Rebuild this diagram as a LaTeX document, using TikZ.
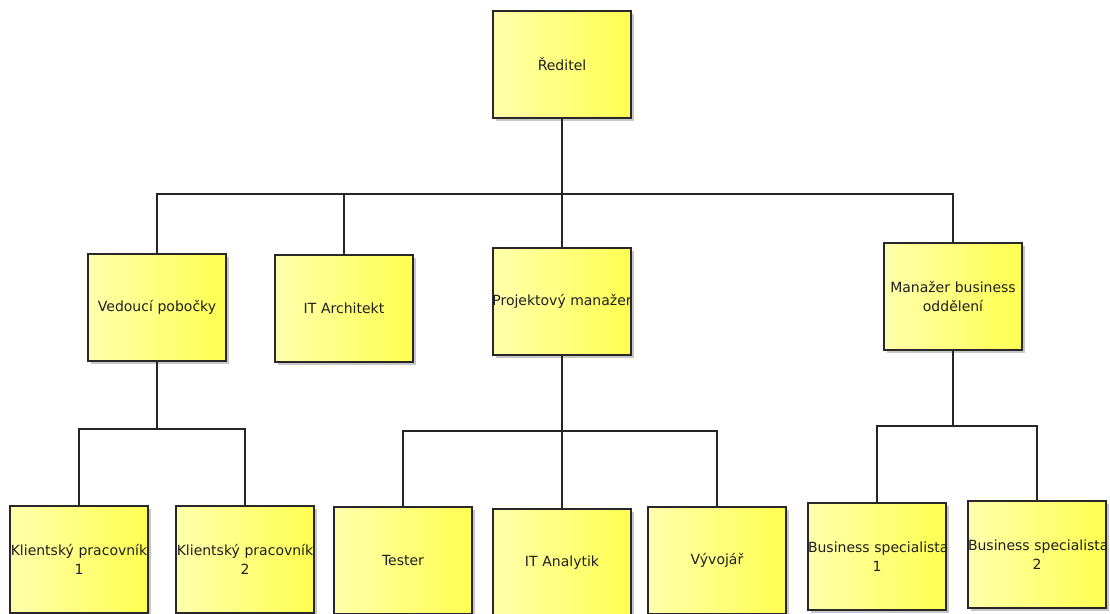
\documentclass[tikz,border=0pt]{standalone}
\usepackage{fontspec}
\setmainfont{DejaVu Sans}
\usetikzlibrary{shadows}
\definecolor{boxleft}{RGB}{255,255,172}
\definecolor{boxright}{RGB}{255,255,80}
\definecolor{boxline}{RGB}{40,40,40}
\tikzset{
  role/.style={rectangle, draw=boxline, line width=2pt, inner sep=0pt,
    minimum width=138pt, minimum height=107pt, text width=138pt,
    left color=boxleft, right color=boxright, shading angle=90,
    align=center, font=\fontsize{14}{19}\selectfont, text=black!88,
    drop shadow={shadow xshift=2.5pt, shadow yshift=-2.5pt, opacity=0.22, fill=black}},
  link/.style={draw=black!85, line width=2pt}
}
\begin{document}
\begin{tikzpicture}[x=1pt, y=-1pt]
  \useasboundingbox (0,0) rectangle (1110,613);

  % top level
  \node[role] (dir) at (562,64.5) {Ředitel};

  % second level
  \node[role] (vp)  at (157,307.5) {Vedoucí pobočky};
  \node[role] (ita) at (344,308.5) {IT Architekt};
  \node[role] (pm)  at (562,301.5) {};
  \begin{scope}
    \clip ([xshift=-10pt]pm.south west) rectangle ([xshift=-1pt]pm.north east);
    \node[font=\fontsize{14}{19}\selectfont, text=black!88, inner sep=0pt]
      (pmlabel) at (pm.center) {Projektový manažer};
  \end{scope}
  \node[role] (mb)  at (953,296.5) {Manažer business\\oddělení};

  % third level
  \node[role] (k1) at (79,559.5)  {\mbox{Klientský pracovník}\\1};
  \node[role] (k2) at (245,559.5) {\mbox{Klientský pracovník}\\2};
  \node[role] (te) at (403,560.5) {Tester};
  \node[role] (ia) at (562,562.5) {IT Analytik};
  \node[role] (vy) at (717,560.5) {Vývojář};
  \node[role] (b1) at (877,556.5) {\mbox{Business specialista}\\1};
  \node[role] (b2) at (1037,554.5) {\mbox{Business specialista}\\2};

  % bus junctions
  \coordinate (j0) at (562,194);
  \coordinate (j1) at (157,429);
  \coordinate (j2) at (562,431);
  \coordinate (j3) at (953,426);

  % connectors
  \draw[link] (dir.south) -- (j0);
  \draw[link] (j0) -| (vp.north);
  \draw[link] (j0) -| (ita.north);
  \draw[link] (j0) -- (pm.north);
  \draw[link] (j0) -| (mb.north);

  \draw[link] (vp.south) -- (j1);
  \draw[link] (j1) -| (k1.north);
  \draw[link] (j1) -| (k2.north);

  \draw[link] (pm.south) -- (j2);
  \draw[link] (j2) -| (te.north);
  \draw[link] (j2) -- (ia.north);
  \draw[link] (j2) -| (vy.north);

  \draw[link] (mb.south) -- (j3);
  \draw[link] (j3) -| (b1.north);
  \draw[link] (j3) -| (b2.north);
\end{tikzpicture}
\end{document}
